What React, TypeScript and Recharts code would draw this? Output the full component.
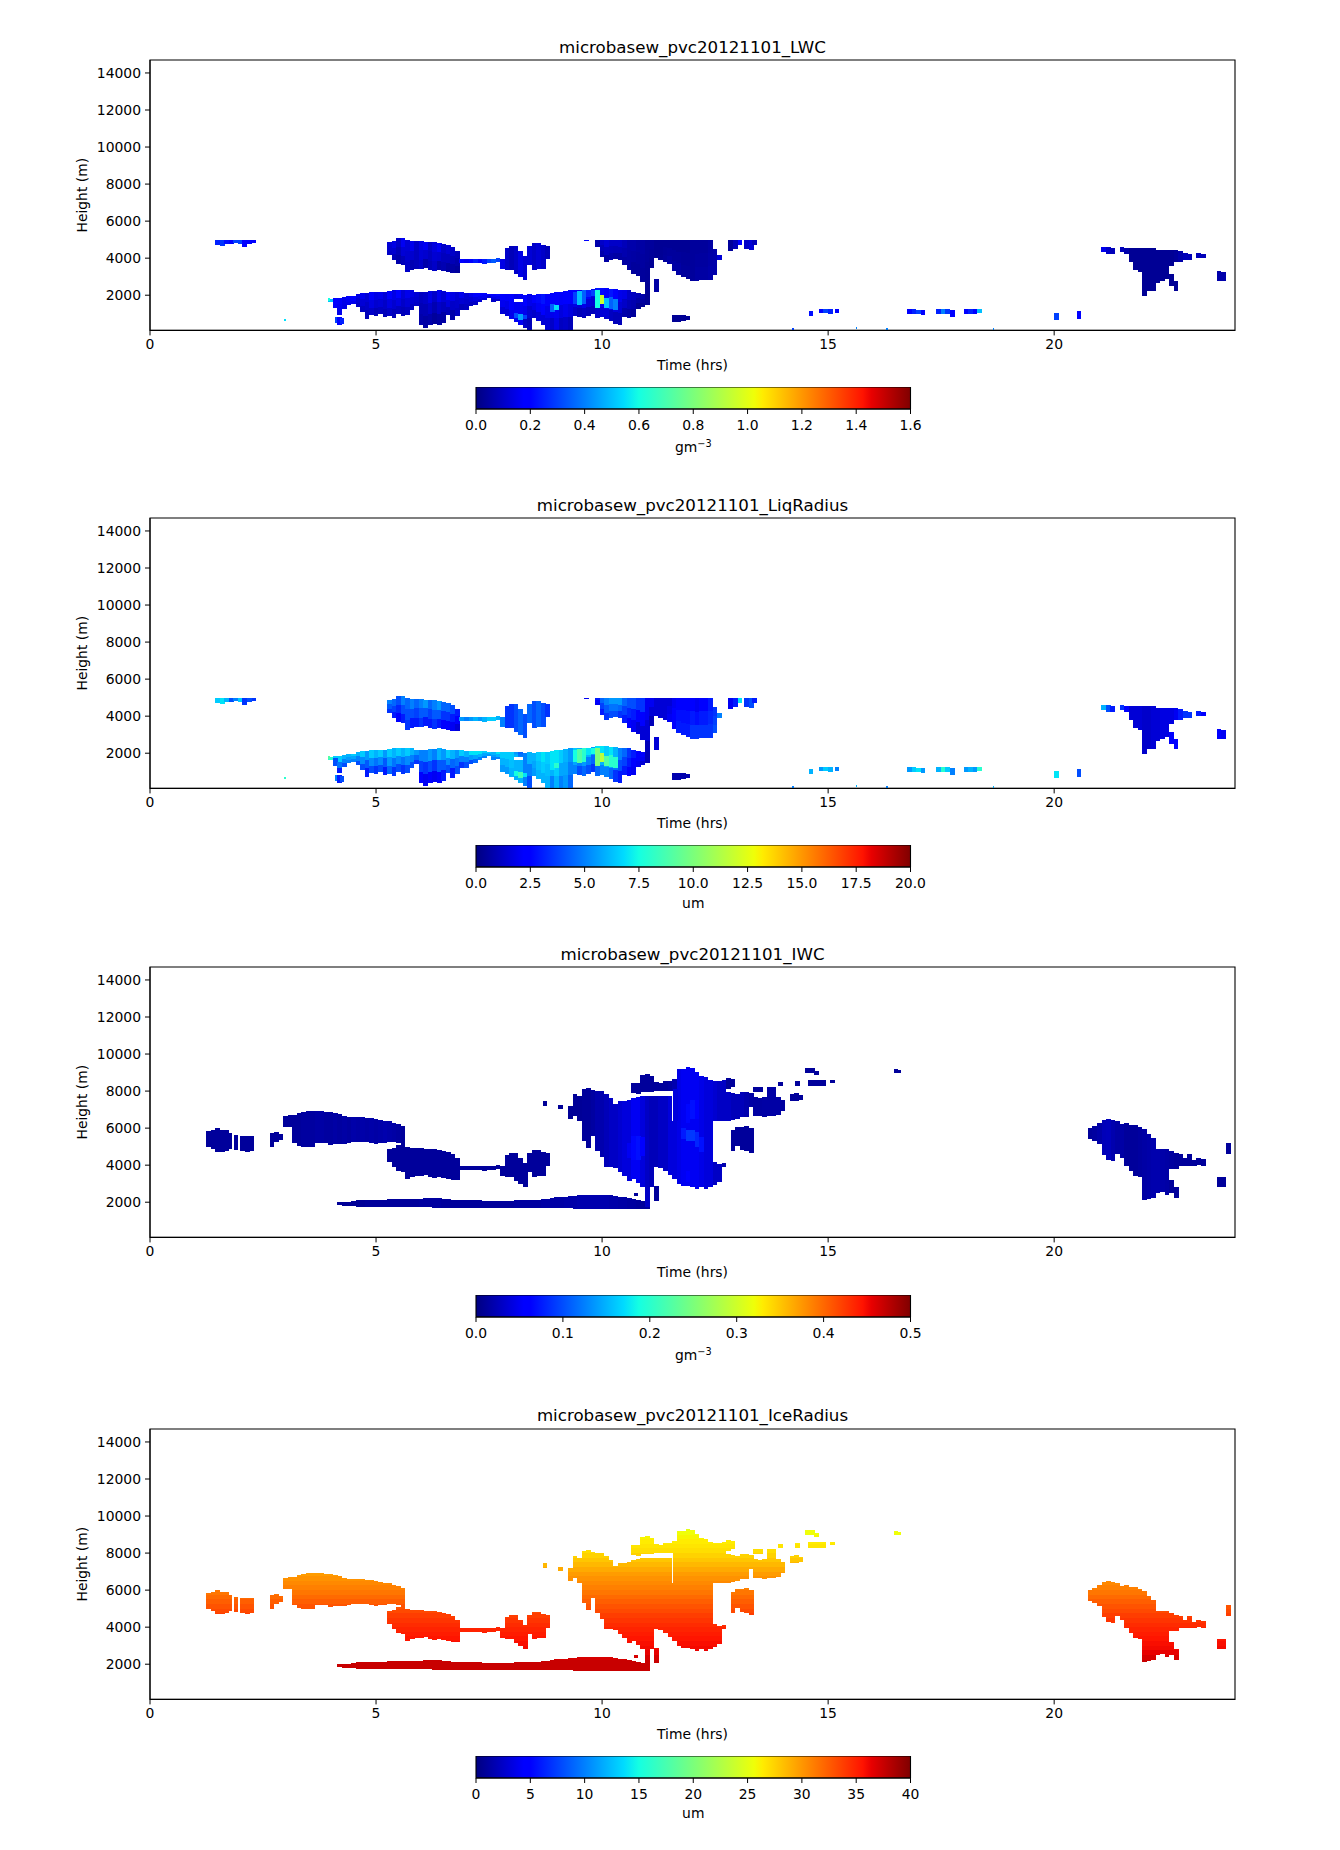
import { Bar, ComposedChart, ReferenceArea, XAxis, YAxis } from "recharts";

const FONT = "'DejaVu Sans', sans-serif";

const deckT = [4.1,4.2,4.3,4.4,4.5,4.6,4.7,4.8,4.9,5.0,5.1,5.2,5.3,5.4,5.5,5.6,5.7,5.8,5.9,6.0,6.1,6.2,6.3,6.4,6.5,6.6,6.7,6.8,6.9,7.0,7.1,7.2,7.3,7.4,7.5,7.6,7.7,7.8,7.9,8.0,8.1,8.2,8.3,8.4,8.5,8.6,8.7,8.8,8.9,9.0,9.1,9.2,9.3,9.4,9.5,9.6,9.7,9.8,9.9,10.0,10.1,10.2,10.3,10.4,10.5,10.6,10.7,10.8,10.9,11.0];
const deckTop = [1860,1860,1900,1940,1970,2080,2120,2120,2170,2150,2190,2190,2210,2260,2260,2300,2300,2260,2170,2170,2190,2210,2220,2260,2220,2190,2170,2170,2150,2120,2120,2120,2120,2120,2080,2080,2080,2080,2080,2080,2080,2040,2010,2040,2010,2040,2080,2080,2120,2150,2170,2220,2260,2300,2300,2300,2300,2330,2370,2400,2370,2330,2330,2300,2300,2260,2190,2120,2040,2010];
const deckBase = [1320,910,1270,1450,1540,1360,1090,730,910,860,960,820,890,780,960,860,930,1180,1400,370,240,370,420,370,500,910,680,860,1180,1220,1400,1450,1630,1720,1860,1630,1680,1000,860,730,1780,1780,240,140,780,600,370,140,100,100,100,100,100,860,820,780,860,1000,780,820,730,600,460,370,820,780,820,1270,1360,1450];
const deckLwcUp = [.2,.17,.15,.17,.19,.14,.15,.12,.17,.14,.15,.12,.17,.14,.18,.12,.15,.14,.12,.09,.1,.14,.1,.15,.12,.17,.14,.12,.15,.12,.15,.17,.18,.2,.18,.17,.21,.19,.17,.2,.15,.17,.2,.15,.18,.21,.23,.17,.2,.18,.17,.2,.18,.18,.15,.2,.17,.15,.23,.21,.2,.23,.18,.15,.14,.1,.09,.08,.06,.05];
const deckLwcLow = [.17,.15,.14,.15,.15,.1,.09,.08,.1,.08,.09,.08,.1,.08,.09,.08,.09,.09,.1,.06,.05,.06,.04,.05,.05,.08,.06,.09,.08,.09,.09,.1,.12,.12,.12,.1,.1,.12,.12,.15,.15,.14,.1,.08,.1,.12,.12,.12,.1,.14,.09,.1,.08,.1,.08,.09,.08,.08,.1,.12,.12,.09,.08,.08,.06,.05,.04,.03,.03,.03];
const deckRadUp = [6.5,6.5,6,6,6.5,6,6.5,5.5,6.5,6,6.5,5.5,6.5,6,6.5,6,6.5,6,5.5,5,5,5.5,5,6,5.5,6.5,6,5.5,6.5,6,7,7,7,6.5,6.5,6,7,6.5,6.5,6.5,5.5,4.5,5,6,6,6.5,7,6.5,7,7,6.5,6,5.5,6.5,6,6.5,6,5.5,7,7,6.5,7,6,5,4.5,3.5,3,2.5,2.5,2];
const deckRadLow = [4,3,4,5,5,4,4,3,4,3.5,4,3,4.5,3.5,4,3.5,4,4,3.5,2.5,2,2.5,2,2.5,3,4,3,4,3.5,4,4,4.5,5,5,5.5,5,5,5.5,5.5,6,6,5,5,4,5.5,6,6,6,5,6,5,5.5,4.5,5,4,4.5,4,3.5,4.5,5,5,4.5,3.5,3,3,2.5,2,2,1.5,1.5];

const pocketT = [8.1,8.2];
const pocketBase = [550,370];
const pocketTop = [1650,1660];
const pocketLwc = [.16,.16];
const pocketRad = [6,6];

const hotT = [8.1,8.2,8.3,8.9,9.0,9.4,9.5,9.6,9.7,9.8,9.9,10.0,10.1,10.2,10.3];
const hotBase = [750,650,700,1100,1200,1500,1450,1500,1900,1950,1300,1500,1300,1250,1200];
const hotTop = [1050,1000,950,1500,1450,2200,2250,2300,2300,2300,2300,2000,1850,1900,1800];
const hotLwc = [.32,.45,.3,.35,.55,.3,.5,.35,.25,.3,.6,.95,.5,.35,.4];
const hotRad = [7.5,8.5,7,7,8,7.5,9,8,7,7.5,10,11.5,9,8,8];

const upperT = [9.9,10.0,10.1,10.2,10.3,10.4,10.5,10.6,10.7,10.8,10.9,11.0,11.1,11.2,11.3,11.4,11.5,11.6,11.7,11.8,11.9,12.0,12.1,12.2,12.3,12.4,12.5,12.6];
const upperBase = [4600,4060,3790,3920,3950,3880,3610,3380,3160,3020,2710,1450,3480,4020,3920,3790,3700,3300,3070,2980,2890,2760,2750,2800,2800,2840,3070,3900];
const upperTop = [5000,5000,5000,5000,5000,5000,5000,5000,5000,5000,5000,5000,5000,5000,5000,5000,5000,5000,5000,5000,5000,5000,5000,5000,5000,5000,4500,4150];
const upperLwcUp = [.06,.1,.12,.1,.1,.1,.08,.06,.06,.05,.05,.04,.04,.03,.03,.03,.03,.03,.03,.03,.03,.04,.04,.04,.04,.05,.06,.12];
const upperLwcLow = [.06,.06,.05,.06,.05,.05,.05,.05,.04,.04,.04,.03,.03,.03,.03,.04,.05,.05,.05,.04,.04,.04,.05,.05,.05,.06,.06,.12];
const upperRadUp = [3,4.5,5,5.5,5.5,5.5,4.5,4,4,3.5,3.5,2,2,1.5,1.5,1.5,1.5,2,2.5,2.5,2.5,2.5,2,2.5,2.5,3,3.5,5];
const upperRadLow = [2,3,3.5,4,4,3.5,3,2.5,2,1.5,1.5,1,1,1.5,1.5,1.5,2,2.5,3,3,3,3.5,3.5,3.5,3.5,3.5,4,5];

const blobT = [5.3,5.4,5.5,5.6,5.7,5.8,5.9,6.0,6.1,6.2,6.3,6.4,6.5,6.6,6.7,6.8];
const blobBase = [4150,3880,3700,3610,3250,3380,3430,3430,3480,3340,3300,3380,3300,3250,3200,3200];
const blobTop = [4900,4920,5090,5090,4960,4920,4920,4920,4900,4890,4880,4830,4780,4690,4600,4380];
const blobLwcUp = [.12,.14,.1,.16,.12,.15,.1,.14,.16,.1,.13,.16,.1,.12,.1,.08];
const blobLwcLow = [.1,.08,.06,.08,.1,.07,.08,.1,.06,.08,.1,.06,.07,.05,.05,.04];
const blobRadUp = [5,4.5,4,5,4.5,5,4.5,5,5.5,4.5,5,5.5,4.5,4.5,4,3];
const blobRadLow = [3.5,3,2.5,3,3.5,3,3,3.5,3,3,3.5,3,2.5,2.5,2,1.5];

const lineT = [6.9,7.0,7.1,7.2,7.3,7.4,7.5,7.6,7.7];
const lineBase = [3750,3720,3740,3740,3730,3700,3750,3760,3780];
const lineTop = [3950,3970,3960,3930,3940,3950,3960,3980,4000];
const lineLwc = [.2,.16,.2,.24,.2,.24,.3,.34,.3];
const lineRad = [5.5,5,5.5,6,5.5,6,6.5,6.5,6];

const knotT = [7.8,7.9,8.0,8.1,8.2,8.3,8.4,8.5,8.6,8.7,8.8];
const knotBase = [3430,3340,3380,3160,2980,2800,3610,3340,3430,3430,3970];
const knotTop = [3970,4560,4640,4640,4380,4100,4640,4820,4820,4730,4640];
const knotLwc = [.14,.1,.08,.1,.14,.12,.12,.1,.12,.1,.08];
const knotRad = [5,3.5,3.5,4,4.5,4,4.5,4,4.5,4,3.5];

const fringeT = [1.5,1.6,1.7,1.8,1.9,2.0,2.1,2.2,2.3];
const fringeBase = [4720,4680,4780,4750,4830,4780,4620,4780,4820];
const fringeTop = [4980,4980,4980,4980,5000,5000,5000,5000,5000];
const fringeLwc = [.25,.28,.22,.2,.3,.3,.18,.2,.18];
const fringeRad = [6.5,7,6,4,5,6.5,3.5,4,3.5];

const anvilT = [21.1,21.2,21.3,21.5,21.6,21.7,21.8,21.9,22.0,22.1,22.2,22.3,22.4,22.5,22.6,22.7,22.8,22.9,23.0,23.2,23.3,23.65,23.75,22.6,22.7];
const anvilBase = [4350,4220,4220,4350,4220,3770,3380,3270,1970,2240,2240,2660,2780,2870,3590,3770,3810,3920,3920,4000,4020,2780,2780,2480,2240];
const anvilTop = [4580,4580,4530,4580,4560,4530,4530,4530,4530,4530,4530,4460,4460,4460,4460,4460,4400,4280,4220,4280,4220,3300,3270,3140,2780];
const anvilLwc = [.15,.1,.08,.08,.06,.03,.03,.03,.03,.03,.03,.03,.03,.03,.03,.04,.06,.08,.08,.08,.08,.06,.06,.03,.03];
const anvilRad = [6,4,3,3.5,2.5,1.5,1.5,1.5,1.3,1.3,1.5,1.5,1.7,1.7,1.7,2,3,3.5,3.5,3,2.5,2.5,2,2.5,2.5];

const specksT = [3.4,3.54,4.0,4.1,4.15,4.2,4.25,11.2,11.6,11.7,11.8,11.9,12.85,12.95,13.05,13.2,13.3,13.38,14.62,14.85,14.95,15.05,15.2,16.8,16.9,17.0,17.1,17.45,17.55,17.65,17.75,18.05,18.15,18.25,18.35,20.05,20.55,9.66];
const specksBase = [4960,4960,1650,1500,500,400,450,2170,550,550,600,650,4400,4480,4700,4500,4420,4700,900,1050,1050,1000,1050,980,1000,1000,950,1000,1000,980,850,980,1000,1000,1020,650,720,4940];
const specksTop = [5000,5000,1800,1760,800,850,750,2890,950,950,950,900,5000,5000,5000,5000,5000,5000,1160,1240,1250,1250,1230,1250,1250,1220,1200,1260,1260,1260,1220,1250,1260,1250,1240,1020,1130,5000];
const specksLwc = [.58,.58,.5,.2,.3,.2,.25,.05,.03,.03,.03,.03,.04,.08,.2,.1,.12,.08,.22,.2,.3,.25,.2,.2,.25,.3,.2,.25,.4,.28,.2,.2,.25,.2,.5,.3,.2,.2];
const specksRad = [9,9,8,4,5,3,4,1.5,.8,.8,.8,.8,2,3,7,3.5,4,3,6,5.5,6.5,6,5,5.5,6.5,7,5.5,6,8,6.5,5,5.5,6,5.5,8,7,4,2];

const tinyT = [2.99,3.96,14.23,15.63,16.3,18.66];
const tinyBase = [600,1700,130,200,130,130];
const tinyTop = [700,1830,230,260,230,230];
const tinyLwc = [.55,.6,.3,.4,.4,.4];
const tinyRad = [8,9,5,6,5,6];

// ---- ice cloud
const cirrusT = [1.3,1.4,1.5,1.6,1.7,1.77,1.9,2.05,2.15,2.25,2.7,2.8,2.9];
const cirrusBase = [5000,4870,4690,4690,4780,4870,4830,4780,4690,4780,5000,5230,5360];
const cirrusTop = [5860,5910,5990,5910,5910,5730,5640,5590,5590,5590,5720,5770,5680];
const cirrusIwc = [.012,.012,.012,.012,.012,.012,.012,.012,.012,.012,.012,.012,.012];

const sheetT = [3.0,3.1,3.2,3.3,3.4,3.5,3.6,3.7,3.8,3.9,4.0,4.1,4.2,4.3,4.4,4.5,4.6,4.7,4.8,4.9,5.0,5.1,5.2,5.3,5.4,5.5,5.6];
const sheetBase = [6040,6040,5190,5050,5000,5000,5000,5190,5190,5190,5090,5140,5140,5120,5190,5270,5270,5270,5230,5190,5120,5190,5190,5270,5230,5190,5050];
const sheetTop = [6630,6700,6700,6810,6890,6920,6920,6900,6920,6890,6890,6810,6740,6670,6600,6600,6600,6600,6530,6530,6490,6420,6400,6360,6270,6240,6090];
const sheetIwc = [.012,.012,.012,.012,.014,.014,.014,.016,.016,.014,.014,.016,.014,.016,.014,.018,.016,.018,.016,.018,.016,.018,.02,.018,.016,.014,.012];

const thinT = [4.2,4.3,4.4,4.5,4.6,4.7,4.8,4.9,5.0,5.1,5.2,5.3,5.4,5.5,5.6,5.7,5.8,5.9,6.0,6.1,6.2,6.3,6.4,6.5,6.6,6.7,6.8,6.9,7.0,7.1,7.2,7.3,7.4,7.5,7.6,7.7,7.8,7.9,8.0,8.1,8.2,8.3,8.4,8.5,8.6,8.7,8.8,8.9,9.0,9.1,9.2,9.3,9.4,9.5,9.6,9.7,9.8,9.9,10.0,10.1,10.2,10.3,10.4,10.5,10.6,10.7,10.8,10.9,11.0];
const thinBase = [1850,1810,1810,1770,1740,1720,1720,1720,1720,1720,1720,1720,1720,1720,1720,1720,1720,1720,1720,1720,1720,1700,1700,1700,1700,1700,1700,1700,1700,1700,1700,1680,1700,1700,1700,1700,1700,1700,1700,1700,1700,1700,1700,1700,1700,1700,1700,1700,1680,1680,1680,1680,1650,1650,1640,1640,1640,1630,1630,1630,1630,1630,1630,1630,1630,1630,1630,1630,1630];
const thinTop = [1990,1990,2030,2080,2120,2120,2120,2120,2140,2140,2140,2150,2150,2150,2170,2170,2170,2170,2190,2210,2210,2210,2210,2190,2170,2120,2120,2120,2120,2100,2100,2100,2080,2080,2080,2080,2080,2080,2080,2100,2100,2120,2120,2140,2140,2170,2170,2210,2260,2280,2300,2320,2350,2370,2380,2400,2400,2400,2400,2380,2370,2340,2300,2260,2220,2170,2120,2060,1990];
const thinIwc = [.01,.01,.01,.01,.01,.01,.012,.012,.012,.012,.012,.012,.012,.012,.012,.012,.012,.012,.014,.014,.014,.014,.014,.012,.012,.012,.012,.012,.012,.012,.012,.012,.012,.012,.012,.012,.012,.012,.012,.014,.014,.014,.014,.014,.014,.016,.016,.016,.016,.016,.018,.018,.018,.02,.02,.02,.02,.02,.02,.02,.018,.018,.016,.016,.014,.014,.012,.012,.012];

const bodyT = [9.4,9.5,9.6,9.7,9.8,9.9,10.0,10.1,10.2,10.3,10.4,10.5,10.6,10.7,10.8,10.9,11.0,11.1,11.2,11.3,11.4,11.5,11.6,11.7,11.8,11.9,12.0,12.1,12.2,12.3,12.4,12.5];
const bodyBase = [6670,6400,5320,4920,5590,4780,4420,3880,3910,3830,3610,3430,3160,3250,3020,2800,1720,2800,3920,3840,3700,3480,3250,2980,2890,2890,2800,2710,2800,2710,2800,6400];
const bodyTop = [7840,7750,8110,8160,8050,8020,8020,7840,7620,7300,7440,7480,7520,7620,7660,7730,7730,7750,7750,7750,7750,7750,6400,9190,9190,9280,9240,9010,8830,8740,8600,8560];
const bodyIwc = [.01,.01,.012,.012,.015,.02,.02,.025,.03,.03,.035,.04,.04,.05,.05,.04,.03,.025,.025,.03,.03,.04,.04,.045,.05,.05,.05,.05,.045,.04,.04,.035];

const coreT = [10.6,10.7,10.8,10.9,11.8,11.9,12.0,12.1,12.2,11.9,12.0,12.1,11.9,12.0];
const coreBase = [4400,4300,4300,4500,5400,5300,5300,5000,4700,6300,6500,6500,3100,3100];
const coreTop = [5200,5600,5600,5500,6000,5900,5900,5800,5500,7300,7500,7500,3700,3600];
const coreIwc = [.05,.065,.07,.06,.075,.09,.09,.08,.07,.065,.07,.06,.055,.05];

const armT = [10.7,10.8,10.9,11.0,11.1,11.2,11.3,11.4,11.5,11.6,12.6,12.7,12.8,12.9,13.0,13.1,13.2,13.3,13.4,13.5,13.6,13.7,13.8,13.9,14.0];
const armBase = [7880,7840,7930,7930,7930,7980,8020,8020,8020,8020,6400,6400,6400,6440,6490,6580,6600,7120,6670,6670,6600,6670,6670,6710,6940];
const armTop = [8420,8420,8880,8920,8830,8470,8420,8520,8560,8650,8520,8600,7930,7880,7840,7930,7930,7880,7660,7620,7660,8200,8200,7660,7520];
const armIwc = [.012,.012,.012,.012,.012,.012,.012,.012,.015,.02,.03,.03,.03,.025,.025,.025,.02,.016,.015,.015,.016,.016,.016,.016,.014];

const scrapT = [8.74,9.08,9.3,10.75,11.2,11.63,12.5,12.6,12.7,12.8,12.9,12.9,13.0,13.1,13.2,13.3,13.4,13.5,13.95,14.2,14.3,14.33,14.4,14.55,14.65,14.75,14.6,14.7,14.8,14.9,15.1,16.5,16.57];
const scrapBase = [7210,7040,6500,2350,2080,6400,2940,3070,3880,8110,8200,4760,5060,4840,4760,4660,7930,7930,8290,7480,7480,8300,7520,8970,8970,8870,8250,8250,8250,8250,8420,9000,8980];
const scrapTop = [7480,7260,7200,2490,2890,8100,4150,4060,4100,8700,8650,5900,6040,6060,6100,6020,8200,8200,8470,7840,7880,8570,7800,9230,9230,9060,8600,8620,8620,8620,8600,9200,9120];
const scrapIwc = [.01,.01,.01,.012,.012,.04,.03,.03,.02,.012,.012,.012,.012,.012,.012,.012,.012,.012,.012,.012,.012,.012,.012,.012,.012,.012,.012,.012,.012,.012,.012,.012,.012];

const tailT = [20.8,20.9,21.0,21.1,21.2,21.3,21.4,21.5,21.6,21.7,21.8,21.9,22.0,22.1,22.2,22.3,22.4,22.5,22.6,22.7,22.8,22.9,23.0,23.1,23.2,23.3,23.65,23.75,23.86,22.6,22.7];
const tailBase = [5430,5300,5120,4530,4280,4220,4580,4400,3950,3680,3410,3380,2100,2190,2240,2500,2550,2400,3770,3810,3950,3950,3950,3950,4000,3960,2840,2840,4580,2480,2240];
const tailTop = [6020,6110,6290,6440,6470,6440,6380,6200,6260,6150,6150,6080,5930,5660,5480,4850,4850,4850,4760,4640,4580,4400,4580,4290,4400,4330,3370,3370,5180,3200,2800];
const tailIwc = [.012,.014,.018,.025,.026,.02,.016,.016,.012,.012,.012,.014,.016,.018,.02,.02,.018,.016,.014,.012,.012,.012,.012,.012,.012,.012,.012,.012,.012,.012,.012];

// ice radius follows height almost exactly
const iceBandHeights = [1500,1750,2000,2250,2500,2750,3000,3250,3500,3750,4000,4250,4500,4750,5000,5250,5500,5750,6000,6250,6500,6750,7000,7250,7500,7750,8000,8250,8500,8750,9000,9250];
const iceBandRadius = [37.5,37.5,37.5,37,36.4,36,35.8,35.5,35.2,34.9,34.6,34.2,33.8,33.3,32.9,32.4,31.9,31.4,31,30.6,30.2,29.8,29.2,28.6,28,27.5,27,26.7,26.4,26,25.6,25];

const timeTicks = [0, 5, 10, 15, 20];
const heightTicks = [2000, 4000, 6000, 8000, 10000, 12000, 14000];
const lwcTicks = [0, 0.2, 0.4, 0.6, 0.8, 1.0, 1.2, 1.4, 1.6];
const radTicks = [0, 2.5, 5, 7.5, 10, 12.5, 15, 17.5, 20];
const iwcTicks = [0, 0.1, 0.2, 0.3, 0.4, 0.5];
const iceRadTicks = [0, 5, 10, 15, 20, 25, 30, 35, 40];

function jet(v: number) {
  const x = Math.max(0, Math.min(1, v));
  const seg = (pts: number[][]) => {
    for (let i = 1; i < pts.length; i++) {
      if (x <= pts[i][0]) {
        const f = (x - pts[i - 1][0]) / (pts[i][0] - pts[i - 1][0]);
        return pts[i - 1][1] + f * (pts[i][1] - pts[i - 1][1]);
      }
    }
    return pts[pts.length - 1][1];
  };
  const r = seg([[0, 0], [0.35, 0], [0.66, 1], [0.89, 1], [1, 0.5]]);
  const g = seg([[0, 0], [0.125, 0], [0.375, 1], [0.64, 1], [0.91, 0], [1, 0]]);
  const b = seg([[0, 0.5], [0.11, 1], [0.34, 1], [0.65, 0], [1, 0]]);
  return `rgb(${Math.round(r * 255)},${Math.round(g * 255)},${Math.round(b * 255)})`;
}

type Row = { t: number; range: [number, number]; fill: string; thin?: boolean };

// flat columns, one value each
function flat(t: number[], base: number[], top: number[], v: number[], max: number, thin = false): Row[] {
  return t.map((x, i) => ({ t: x, range: [base[i], top[i]], fill: jet(v[i] / max), thin }));
}

// columns shaded in three layers, top to bottom
function layered(t: number[], base: number[], top: number[], up: number[], low: number[], max: number): Row[] {
  const rows: Row[] = [];
  t.forEach((x, i) => {
    const third = (top[i] - base[i]) / 3;
    rows.push({ t: x, range: [base[i], base[i] + third], fill: jet(low[i] / max) });
    rows.push({ t: x, range: [base[i] + third, base[i] + 2 * third], fill: jet((low[i] + up[i]) / 2 / max) });
    rows.push({ t: x, range: [base[i] + 2 * third, top[i]], fill: jet(up[i] / max) });
  });
  return rows;
}

const lwcRows: Row[] = [
  ...flat(fringeT, fringeBase, fringeTop, fringeLwc, 1.6),
  ...layered(deckT, deckBase, deckTop, deckLwcUp, deckLwcLow, 1.6),
  ...flat(pocketT, pocketBase, pocketTop, pocketLwc, 1.6),
  ...flat(hotT, hotBase, hotTop, hotLwc, 1.6),
  ...layered(upperT, upperBase, upperTop, upperLwcUp, upperLwcLow, 1.6),
  ...layered(blobT, blobBase, blobTop, blobLwcUp, blobLwcLow, 1.6),
  ...flat(lineT, lineBase, lineTop, lineLwc, 1.6),
  ...flat(knotT, knotBase, knotTop, knotLwc, 1.6),
  ...flat(anvilT, anvilBase, anvilTop, anvilLwc, 1.6),
  ...flat(specksT, specksBase, specksTop, specksLwc, 1.6),
  ...flat(tinyT, tinyBase, tinyTop, tinyLwc, 1.6, true),
];

const radRows: Row[] = [
  ...flat(fringeT, fringeBase, fringeTop, fringeRad, 20),
  ...layered(deckT, deckBase, deckTop, deckRadUp, deckRadLow, 20),
  ...flat(pocketT, pocketBase, pocketTop, pocketRad, 20),
  ...flat(hotT, hotBase, hotTop, hotRad, 20),
  ...layered(upperT, upperBase, upperTop, upperRadUp, upperRadLow, 20),
  ...layered(blobT, blobBase, blobTop, blobRadUp, blobRadLow, 20),
  ...flat(lineT, lineBase, lineTop, lineRad, 20),
  ...flat(knotT, knotBase, knotTop, knotRad, 20),
  ...flat(anvilT, anvilBase, anvilTop, anvilRad, 20),
  ...flat(specksT, specksBase, specksTop, specksRad, 20),
  ...flat(tinyT, tinyBase, tinyTop, tinyRad, 20, true),
];

const iwcRows: Row[] = [
  ...flat(cirrusT, cirrusBase, cirrusTop, cirrusIwc, 0.5),
  ...flat(sheetT, sheetBase, sheetTop, sheetIwc, 0.5),
  ...flat(thinT, thinBase, thinTop, thinIwc, 0.5),
  ...flat(blobT, blobBase, blobTop, blobT.map(() => 0.012), 0.5),
  ...flat(lineT, lineBase, lineTop, lineT.map(() => 0.012), 0.5),
  ...flat(knotT, knotBase, knotTop, knotT.map(() => 0.012), 0.5),
  ...flat(bodyT, bodyBase, bodyTop, bodyIwc, 0.5),
  ...flat(coreT, coreBase, coreTop, coreIwc, 0.5),
  ...flat(armT, armBase, armTop, armIwc, 0.5),
  ...flat(scrapT, scrapBase, scrapTop, scrapIwc, 0.5),
  ...flat(tailT, tailBase, tailTop, tailIwc, 0.5),
];

// same outlines as IWC, cut at the height bands so the colour tracks height
function banded(t: number[], base: number[], top: number[]): Row[] {
  const rows: Row[] = [];
  t.forEach((x, i) => {
    iceBandHeights.forEach((h, b) => {
      const lo = Math.max(base[i], h);
      const hi = Math.min(top[i], iceBandHeights[b + 1] ?? 9600);
      if (hi > lo) rows.push({ t: x, range: [lo, hi], fill: jet(iceBandRadius[b] / 40) });
    });
  });
  return rows;
}

const iceRadRows: Row[] = [
  ...banded(cirrusT, cirrusBase, cirrusTop),
  ...banded(sheetT, sheetBase, sheetTop),
  ...banded(thinT, thinBase, thinTop),
  ...banded(blobT, blobBase, blobTop),
  ...banded(lineT, lineBase, lineTop),
  ...banded(knotT, knotBase, knotTop),
  ...banded(bodyT, bodyBase, bodyTop),
  ...banded(armT, armBase, armTop),
  ...banded(scrapT, scrapBase, scrapTop),
  ...banded(tailT, tailBase, tailTop),
];

const tickStyle = { fill: "#000", fontSize: 13.9, fontFamily: FONT };
const COLUMN_PX = 4.7;

// column width is one 0.1 h step of the time axis, centred where the library placed the bar
function CellShape(props: any) {
  const { x, y, width, height, payload } = props;
  const w = payload.thin ? 1.5 : COLUMN_PX;
  return <rect x={x + width / 2 - w / 2} y={y} width={w} height={height} fill={payload.fill} shapeRendering="crispEdges" />;
}

function Panel({ top, title, rows }: { top: number; title: string; rows: Row[] }) {
  return (
    <>
      <div style={{ position: "absolute", left: 150, width: 1085, top: top - 22.5, textAlign: "center", font: `16.67px ${FONT}`, color: "#000", lineHeight: "20px" }}>{title}</div>
      <div style={{ position: "absolute", left: 0, top: top - 10 }}>
        <ComposedChart width={1340} height={350} data={rows} margin={{ top: 10, right: 105, bottom: 0, left: 60 }}>
          <XAxis
            dataKey="t"
            type="number"
            domain={[0, 24]}
            ticks={timeTicks}
            interval={0}
            height={69.6}
            tickSize={5}
            tickMargin={4}
            stroke="#000"
            tick={tickStyle}
            label={{ value: "Time (hrs)", position: "insideTop", offset: 30, fill: "#000", fontSize: 13.9, fontFamily: FONT }}
          />
          <YAxis
            type="number"
            domain={[100, 14700]}
            allowDataOverflow
            ticks={heightTicks}
            interval={0}
            width={90}
            tickSize={5}
            tickMargin={4}
            stroke="#000"
            tick={tickStyle}
            label={{ value: "Height (m)", angle: -90, position: "insideLeft", offset: 22, style: { textAnchor: "middle" }, fill: "#000", fontSize: 13.9, fontFamily: FONT }}
          />
          <Bar dataKey="range" barSize={4.6} isAnimationActive={false} shape={CellShape} />
          <ReferenceArea x1={0} x2={24} y1={100} y2={14700} fill="none" stroke="#000" strokeWidth={1.1} />
        </ComposedChart>
      </div>
    </>
  );
}

function Colorbar({ top, id, max, ticks, digits, unit }: { top: number; id: string; max: number; ticks: number[]; digits: number; unit: string }) {
  const stops = [0, 0.06, 0.11, 0.125, 0.2, 0.3, 0.34, 0.375, 0.45, 0.5, 0.55, 0.64, 0.66, 0.75, 0.85, 0.89, 0.91, 0.95, 1];
  return (
    <>
      <div style={{ position: "absolute", left: 0, top }}>
        <ComposedChart width={1340} height={72} data={[{ x: 0, band: [0, 1] }, { x: max, band: [0, 1] }]} margin={{ top: 0, right: 429.5, bottom: 0, left: 476 }}>
          <defs>
            <linearGradient id={id} x1="0" y1="0" x2="1" y2="0">
              {stops.map((s) => (
                <stop key={s} offset={s} stopColor={jet(s)} />
              ))}
            </linearGradient>
          </defs>
          <XAxis
            dataKey="x"
            type="number"
            domain={[0, max]}
            ticks={ticks}
            interval={0}
            height={50}
            tickSize={5}
            tickMargin={6}
            stroke="#000"
            tick={tickStyle}
            tickFormatter={(v: number) => v.toFixed(digits)}
          />
          <YAxis hide type="number" domain={[0, 1]} allowDataOverflow />
          <Bar dataKey="band" fill="none" isAnimationActive={false} />
          <ReferenceArea x1={0} x2={max} y1={0} y2={1} fill={`url(#${id})`} fillOpacity={1} stroke="#000" strokeWidth={1.1} />
        </ComposedChart>
      </div>
      <div style={{ position: "absolute", left: 476, width: 434.5, top: top + (unit === "gm" ? 51 : 48.5), textAlign: "center", font: `13.9px ${FONT}`, color: "#000", lineHeight: "18px" }}>
        {unit}
        {unit === "gm" && <sup style={{ fontSize: 9.7, lineHeight: 0, verticalAlign: 5 }}>{"\u22123"}</sup>}
      </div>
    </>
  );
}

export default function App() {
  return (
    <div style={{ position: "absolute", left: 0, top: 0, width: 1340, height: 1850, background: "#fff" }}>
      <Panel top={60.3} title="microbasew_pvc20121101_LWC" rows={lwcRows} />
      <Colorbar top={387.3} id="jetLwc" max={1.6} ticks={lwcTicks} digits={1} unit="gm" />
      <Panel top={518} title="microbasew_pvc20121101_LiqRadius" rows={radRows} />
      <Colorbar top={845} id="jetRad" max={20} ticks={radTicks} digits={1} unit="um" />
      <Panel top={967} title="microbasew_pvc20121101_IWC" rows={iwcRows} />
      <Colorbar top={1295} id="jetIwc" max={0.5} ticks={iwcTicks} digits={1} unit="gm" />
      <Panel top={1428.5} title="microbasew_pvc20121101_IceRadius" rows={iceRadRows} />
      <Colorbar top={1755.5} id="jetIce" max={40} ticks={iceRadTicks} digits={0} unit="um" />
    </div>
  );
}
